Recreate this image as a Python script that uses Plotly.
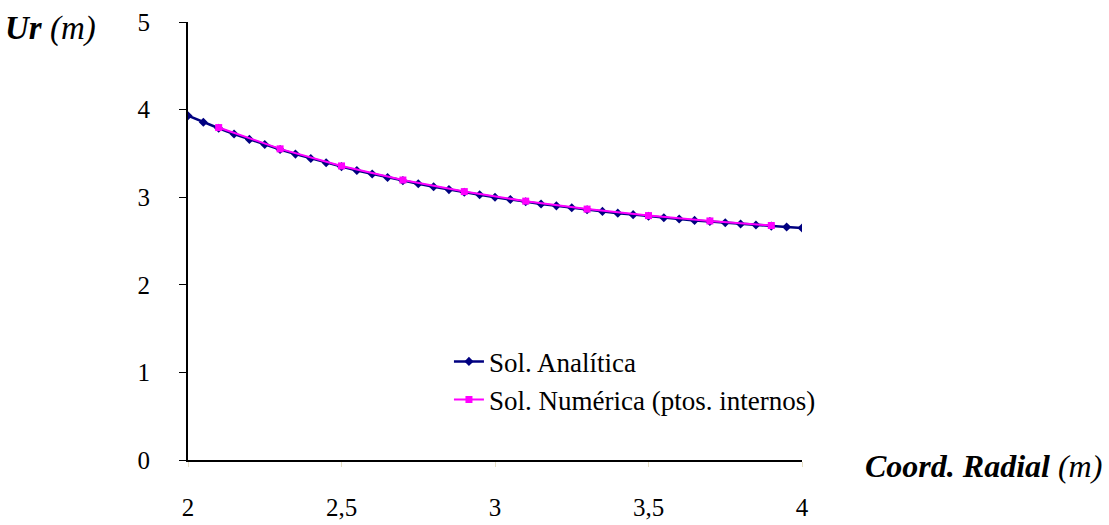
import plotly.graph_objects as go

r_analitica = [2.00, 2.05, 2.10, 2.15, 2.20, 2.25, 2.30, 2.35, 2.40, 2.45, 2.50,
               2.55, 2.60, 2.65, 2.70, 2.75, 2.80, 2.85, 2.90, 2.95, 3.00,
               3.05, 3.10, 3.15, 3.20, 3.25, 3.30, 3.35, 3.40, 3.45, 3.50,
               3.55, 3.60, 3.65, 3.70, 3.75, 3.80, 3.85, 3.90, 3.95, 4.00]
u_analitica = [3.93, 3.856, 3.787, 3.721, 3.660, 3.601, 3.544, 3.492, 3.442, 3.394, 3.349,
               3.305, 3.265, 3.225, 3.189, 3.153, 3.119, 3.087, 3.057, 3.028, 3.000,
               2.973, 2.948, 2.923, 2.901, 2.879, 2.857, 2.838, 2.818, 2.801, 2.783,
               2.766, 2.751, 2.735, 2.722, 2.708, 2.694, 2.682, 2.670, 2.660, 2.649]

r_numerica = [2.1, 2.3, 2.5, 2.7, 2.9, 3.1, 3.3, 3.5, 3.7, 3.9]
u_numerica = [3.795, 3.552, 3.357, 3.196, 3.064, 2.955, 2.864, 2.790, 2.729, 2.677]

x_ticks = [2, 2.5, 3, 3.5, 4]
x_ticktext = ["2", "2,5", "3", "3,5", "4"]
y_ticks = [0, 1, 2, 3, 4, 5]

FONT = "'Liberation Serif', 'Times New Roman', serif"

fig = go.Figure()
fig.add_trace(go.Scatter(
    x=r_analitica, y=u_analitica, mode="lines+markers", name="Sol. Analítica",
    line=dict(color="#000080", width=2.5),
    marker=dict(symbol="diamond", size=7, color="#000080"),
    legendgroup="a",
))
fig.add_trace(go.Scatter(
    x=r_numerica, y=u_numerica, mode="lines+markers", name="Sol. Numérica (ptos. internos)",
    line=dict(color="#FF00FF", width=2),
    marker=dict(symbol="square", size=7, color="#FF00FF"),
    legendgroup="b",
))
fig.update_layout(
    width=1109, height=525,
    margin=dict(l=188, r=307, t=22, b=65, autoexpand=False),
    paper_bgcolor="white", plot_bgcolor="white",
    font=dict(family=FONT, size=25, color="black"),
    showlegend=True,
    legend=dict(x=0.425, y=0.28, xanchor="left", yanchor="top",
                bgcolor="rgba(0,0,0,0)", tracegroupgap=0,
                itemwidth=30, font=dict(size=27, family=FONT)),
    xaxis=dict(range=[2, 4], tickvals=x_ticks, ticktext=x_ticktext,
               showgrid=False, zeroline=False, showline=True, linecolor="black",
               linewidth=2, ticks="outside", ticklen=5, tickcolor="#e6dfc4",
               ticklabelstandoff=19, tickfont=dict(size=25, family=FONT),
               automargin=False),
    yaxis=dict(range=[0, 5], tickvals=y_ticks,
               showgrid=False, zeroline=False, showline=True, linecolor="black",
               linewidth=2, ticks="outside", ticklen=7, tickcolor="black",
               ticklabelstandoff=24, tickfont=dict(size=25, family=FONT),
               automargin=False),
    annotations=[
        dict(text="<b><i>Ur</i></b> <i>(m)</i>", xref="paper", yref="paper",
             x=-0.302, y=0.985, xanchor="left", yanchor="middle", showarrow=False,
             font=dict(size=33, family=FONT)),
        dict(text="<b><i>Coord. Radial</i></b> <i>(m)</i>", xref="paper", yref="paper",
             x=1.1, y=-0.013, xanchor="left", yanchor="middle", showarrow=False,
             font=dict(size=32, family=FONT)),
    ],
)
fig.write_html("out.html")
